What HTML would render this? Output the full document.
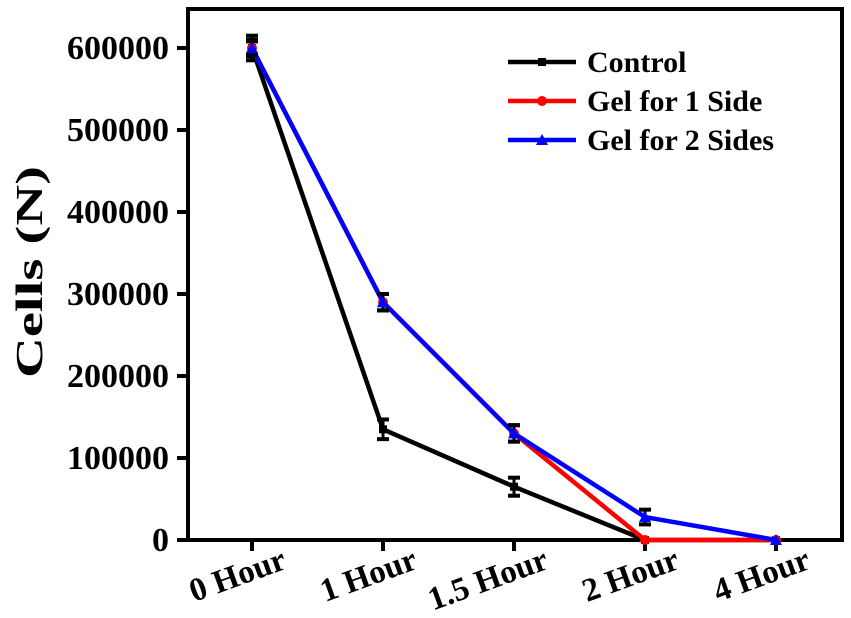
<!DOCTYPE html>
<html><head><meta charset="utf-8"><style>
html,body{margin:0;padding:0;background:#fff;}
svg{display:block;font-family:"Liberation Serif",serif;font-weight:bold;}
</style></head><body>
<svg id="chart" width="851" height="618"></svg>
<script>
const categories=["0 Hour","1 Hour","1.5 Hour","2 Hour","4 Hour"];
const yTicks=[0,100000,200000,300000,400000,500000,600000];
const controlVals=[600000,135000,65000,0,0];
const controlErr=[15000,12000,11000,0,0];
const gel1Vals=[600000,290000,130000,0,0];
const gel1Err=[10000,10000,10000,0,0];
const gel2Vals=[600000,290000,130000,28000,0];
const gel2Err=[8000,10000,10000,9000,0];
const NS="http://www.w3.org/2000/svg";
const svg=document.getElementById('chart');
const L=188,R=842,T=9,B=540;
function x(i){return 252+i*131;}
function y(v){return 540-v*(492/600000);}
function el(t,a,p){const e=document.createElementNS(NS,t);for(const k in a)e.setAttribute(k,a[k]);(p||svg).appendChild(e);return e;}
const frame=el('rect',{x:L,y:T,width:R-L,height:B-T,fill:'none',stroke:'#000','stroke-width':4});


yTicks.forEach(v=>{
  const t=el('line',{x1:177,x2:L,y1:y(v),y2:y(v),stroke:'#000','stroke-width':4});
  
  
  const tx=el('text',{x:169,y:y(v)+11,'text-anchor':'end','font-size':34});
  tx.textContent=v;
  
  
});
categories.forEach((c,i)=>{
  const t=el('line',{x1:x(i),x2:x(i),y1:B,y2:551,stroke:'#000','stroke-width':4});
  
  
  const ax=x(i)+36, ay=568;
  const tx=el('text',{x:ax,y:ay,'text-anchor':'end','font-size':33,transform:`rotate(-20 ${ax} ${ay})`});
  tx.textContent=c;
  
  
});
const yt=el('text',{x:0,y:0,'text-anchor':'middle','font-size':38,textLength:212,lengthAdjust:'spacingAndGlyphs',transform:'translate(42 272) rotate(-90)'});
yt.textContent='Cells (N)';


function series(vals,err,color,marker,name){
  const g=el('g',{});
  
  
  el('polyline',{points:vals.map((v,i)=>x(i)+','+y(v)).join(' '),fill:'none',stroke:color,'stroke-width':4.5,'stroke-linejoin':'round'},g);
  vals.forEach((v,i)=>{
    if(err[i]>0){
      el('line',{x1:x(i),x2:x(i),y1:y(v+err[i]),y2:y(v-err[i]),stroke:'#000','stroke-width':3},g);
      el('line',{x1:x(i)-6,x2:x(i)+6,y1:y(v+err[i]),y2:y(v+err[i]),stroke:'#000','stroke-width':4},g);
      el('line',{x1:x(i)-6,x2:x(i)+6,y1:y(v-err[i]),y2:y(v-err[i]),stroke:'#000','stroke-width':4},g);
    }
    drawMarker(marker,x(i),y(v),color,g);
  });
}
function drawMarker(m,cx,cy,color,g){
  let e;
  if(m==='sq') e=el('rect',{x:cx-4,y:cy-4,width:8,height:8,fill:color},g);
  else if(m==='ci') e=el('circle',{cx:cx,cy:cy,r:5,fill:color},g);
  else e=el('polygon',{points:`${cx},${cy-6} ${cx+6},${cy+5} ${cx-6},${cy+5}`,fill:color},g);
  
  
}
series(controlVals,controlErr,'#000','sq','series-control');
series(gel1Vals,gel1Err,'#f00','ci','series-gel-1-side');
series(gel2Vals,gel2Err,'#00f','tr','series-gel-2-sides');
const legend=[['Control','#000','sq'],['Gel for 1 Side','#f00','ci'],['Gel for 2 Sides','#00f','tr']];
legend.forEach((l,i)=>{
  const g=el('g',{});
  
  
  const ly=62+i*39;
  el('line',{x1:508,x2:576,y1:ly,y2:ly,stroke:l[1],'stroke-width':4.5},g);
  drawMarker(l[2],542,ly,l[1],g);
  const t=el('text',{x:587,y:ly+10,'font-size':30},g);
  t.textContent=l[0];
});
</script>
</body></html>
